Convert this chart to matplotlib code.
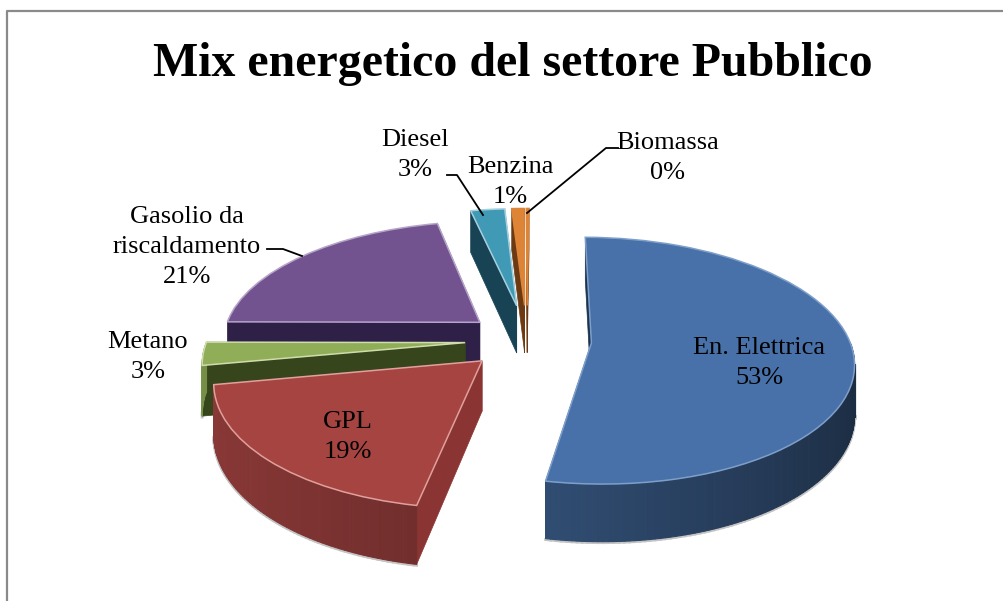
import matplotlib
matplotlib.use('Agg')
import matplotlib.pyplot as plt
from matplotlib.lines import Line2D
from matplotlib.transforms import Transform
import numpy as np

W, H = 1004, 601

title = 'Mix energetico del settore Pubblico'
names = ['En. Elettrica', 'GPL', 'Metano', 'Gasolio da\nriscaldamento', 'Diesel', 'Benzina', 'Biomassa']
values = [52.7, 19, 3, 21.4, 2.5, 0.9, 0.2]
percent_labels = ['53%', '19%', '3%', '21%', '3%', '1%', '0%']

top_colors = ['#4771a8', '#a64442', '#8fae57', '#73538f', '#419ab5', '#dd8437', '#dd8437']
edge_colors = ['#7f9fca', '#e0a09c', '#cfdcae', '#b5a5c8', '#a5d0de', '#dd8437', '#dd8437']
cut_colors = ['#1b3350', '#8a3533', '#36451c', '#2f2047', '#174355', '#6b3a12', '#6b3a12']
explode = [0.25, 0.24, 0.24, 0.24, 0.3, 0.3, 0.3]

# pixel places of the labels, same order as names
label_pos = [(759, 363), (348, 437), (148, 357), (187, 247), (415, 155), (510, 182), (668, 158)]
leaders = [
    [(447, 175), (457, 175), (483, 215)],
    [(527, 213), (606, 148), (618, 148)],
    [(267, 249), (283, 249), (302, 256)],
]

# where the pie centre lands and how big it is, in pixels
CX, CY = 527, 340
RX, RY = 258, 120
PERSP = 0.143
DEPTH = 0.41


class Persp(Transform):
    input_dims = 2
    output_dims = 2
    is_separable = False

    def __init__(self, k, z=0):
        super().__init__()
        self.k = k
        self.z = z

    def transform_non_affine(self, values):
        values = np.asarray(values)
        w = 1 + self.k * values[:, 1]
        return np.column_stack((values[:, 0] / w, (values[:, 1] - self.z) / w))


def shade(color, f):
    return tuple(np.array(matplotlib.colors.to_rgb(color)) * min(f, 1))


def draw_walls(ax, wedge, cut_color, color, order):
    top = Persp(PERSP, 0)
    low = Persp(PERSP, DEPTH)
    c = np.array(wedge.center)
    # the two flat cut faces
    for a in [wedge.theta1, wedge.theta2]:
        rim = c + wedge.r * np.array([np.cos(np.radians(a)), np.sin(np.radians(a))])
        pts = np.vstack((top.transform(np.array([c, rim])), low.transform(np.array([rim, c]))))
        ax.fill(pts[:, 0], pts[:, 1], color=cut_color, lw=0.5, zorder=order)
    # the curved outside, in small strips so it can be shaded. only the front part shows
    steps = np.append(np.arange(wedge.theta1, wedge.theta2, 1.0), wedge.theta2)
    for a, b in zip(steps[:-1], steps[1:]):
        mid = (a + b) / 2
        if np.sin(np.radians(mid)) > 0:
            continue
        t = np.radians([a, b])
        rim = c + wedge.r * np.column_stack((np.cos(t), np.sin(t)))
        pts = np.vstack((top.transform(rim), low.transform(rim[::-1])))
        f = 0.6 + 0.22 * np.cos(np.radians(mid + 170))
        ax.fill(pts[:, 0], pts[:, 1], color=shade(color, f), lw=0.8, zorder=order + 0.1)
        # soft grey shadow under the rim
        ax.plot(pts[2:, 0], pts[2:, 1] - 0.008, color='#c4c4c4', lw=2, zorder=0.5)


fig = plt.figure(figsize=(W / 100, H / 100), dpi=100, facecolor='white')
ax = fig.add_axes([0, 0, 1, 1])

wedges, _ = ax.pie(values, explode=explode, colors=top_colors, startangle=89.5, counterclock=False,
                   wedgeprops={'linewidth': 1.1})

# back slices first so the front ones cover them
draw_order = [6, 5, 4, 3, 2, 0, 1]
for n, i in enumerate(draw_order):
    w = wedges[i]
    draw_walls(ax, w, cut_colors[i], top_colors[i], n * 2 + 1)
    w.set_transform(Persp(PERSP, 0) + ax.transData)
    w.set_edgecolor(edge_colors[i])
    w.set_zorder(n * 2 + 1.5)

ax.set_aspect('auto')
ax.set_xlim(-CX / RX, (W - CX) / RX)
ax.set_ylim((CY - H) / RY, CY / RY)
ax.set_axis_off()


def fpos(x, y):
    return x / W, 1 - y / H


serif = 'Liberation Serif'
fig.text(*fpos(513, 64), title, family=serif, weight='bold', fontsize=34.5, ha='center', va='center')
for name, pct, pos in zip(names, percent_labels, label_pos):
    fig.text(*fpos(*pos), name + '\n' + pct, family=serif, fontsize=19, ha='center', va='center',
             linespacing=1.45, zorder=50, color='black')

for line in leaders:
    xs, ys = zip(*[fpos(*p) for p in line])
    fig.add_artist(Line2D(xs, ys, color='black', lw=1.3))

# the chart border, only top and left
xs, ys = zip(*[fpos(*p) for p in [(7, 601), (7, 11), (1004, 11)]])
fig.add_artist(Line2D(xs, ys, color='#8a8a8a', lw=1.6))

fig.savefig('out.png', dpi=100, facecolor='white')
